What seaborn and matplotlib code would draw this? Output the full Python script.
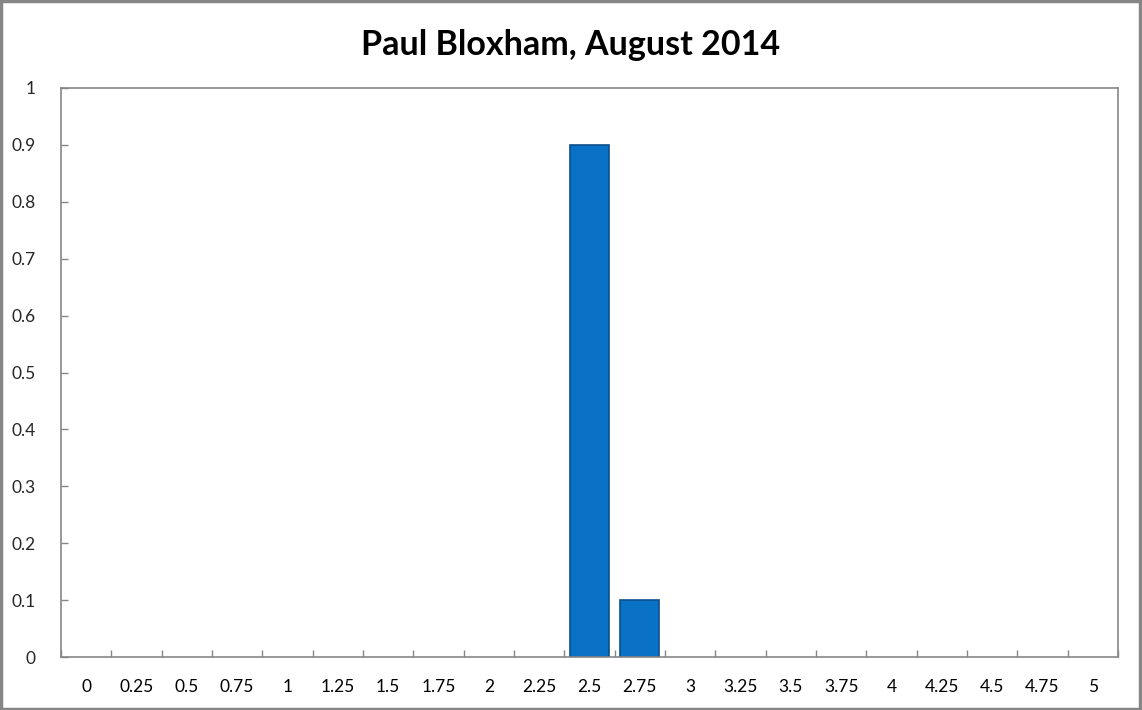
import numpy as np
import pandas as pd
import seaborn as sns
import matplotlib.pyplot as plt
from matplotlib.patches import Rectangle

# chart data
categories = ['0', '0.25', '0.5', '0.75', '1', '1.25', '1.5', '1.75', '2', '2.25',
              '2.5', '2.75', '3', '3.25', '3.5', '3.75', '4', '4.25', '4.5', '4.75', '5']
values = [0, 0, 0, 0, 0, 0, 0, 0, 0, 0,
          0.9, 0.1, 0, 0, 0, 0, 0, 0, 0, 0, 0]
title = 'Paul Bloxham, August 2014'

sns.set_style('white')
plt.rcParams['font.family'] = ['Lato', 'DejaVu Sans']

df = pd.DataFrame({'cat': categories, 'val': values})
df_bars = df[df['val'] > 0]

fig = plt.figure(figsize=(11.42, 7.10), dpi=100)
ax = fig.add_axes([61 / 1142, 53 / 710, (1118 - 61) / 1142, (657 - 88) / 710])

sns.barplot(data=df_bars, x='cat', y='val', order=categories, color='#0A72C6',
            width=0.78, edgecolor='#0B4F8A', linewidth=1.2, saturation=1, ax=ax)

ax.set_xlim(-0.5, len(categories) - 0.5)
ax.set_ylim(0, 1)
ax.set_yticks(np.arange(0, 1.01, 0.1))
ax.set_yticklabels(['0', '0.1', '0.2', '0.3', '0.4', '0.5', '0.6', '0.7', '0.8', '0.9', '1'])
ax.set_xlabel('')
ax.set_ylabel('')

# ticks between categories, pointing inward
ax.set_xticks(np.arange(-0.5, len(categories) - 0.4, 1), minor=True)
ax.tick_params(axis='x', which='major', length=0, pad=15.5, labelsize=12.5, colors='black')
ax.tick_params(axis='x', which='minor', direction='in', length=5, width=1, color='#868686', bottom=True)
ax.tick_params(axis='y', which='major', direction='in', length=5, width=1, color='#868686',
               pad=18, labelsize=12.5, left=True)

for sp in ax.spines.values():
    sp.set_color('#868686')
    sp.set_linewidth(1.2)

fig.text(0.5, 1 - 45 / 710, title, ha='center', va='center', fontsize=24.5,
         fontweight='bold', color='black')

# outer chart border
fig.patches.append(Rectangle((0.001, 0.002), 0.997, 0.996, transform=fig.transFigure,
                             fill=False, edgecolor='#868686', linewidth=2.5))

fig.savefig('out.png', dpi=100)
